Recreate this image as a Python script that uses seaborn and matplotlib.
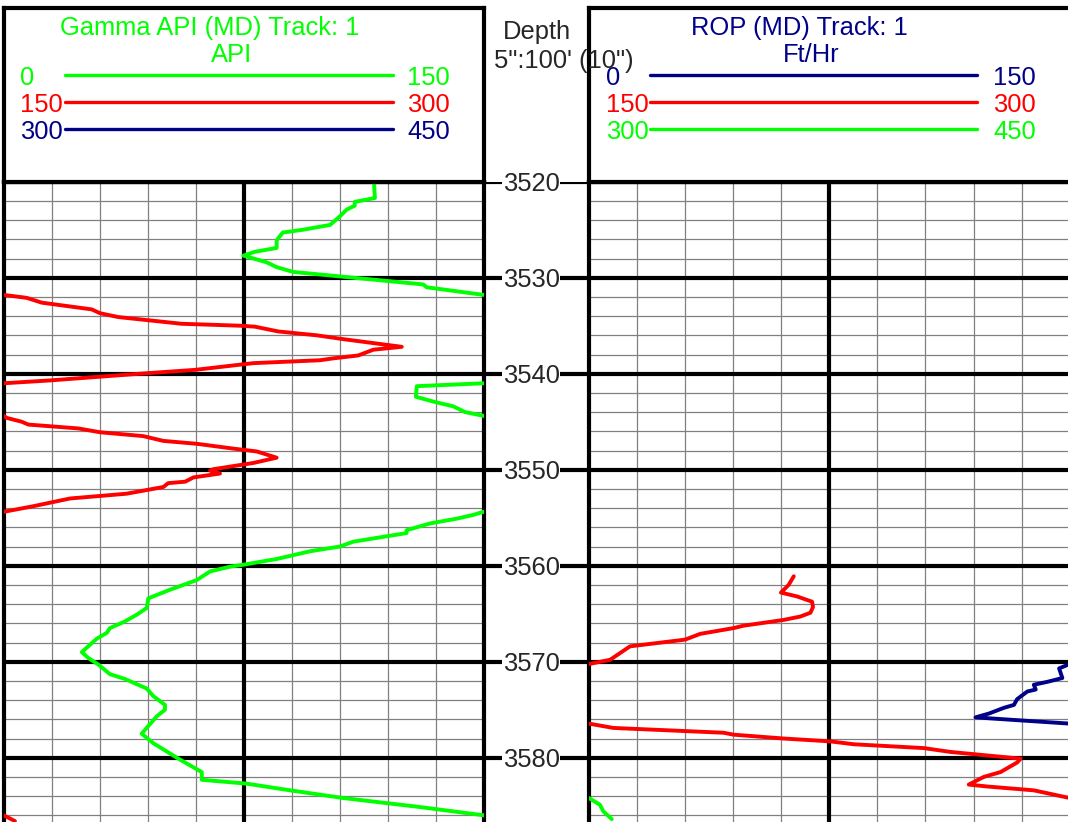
import numpy as np
import matplotlib
matplotlib.use("Agg")
import matplotlib.pyplot as plt
from matplotlib.patches import Polygon
import seaborn as sns

# gamma ray, API (the track wraps every 150 API)
gr_depth = [3520.0, 3521.7, 3522.1, 3522.5, 3522.9, 3523.6, 3524.5, 3525.0, 3525.3, 3526.1,
            3526.9, 3527.3, 3527.7, 3528.4, 3528.9, 3529.4, 3529.8, 3530.7, 3531.0, 3531.8,
            3532.1, 3532.6, 3533.3, 3533.7, 3534.1, 3534.8, 3535.0, 3535.1, 3535.6, 3536.0,
            3536.4, 3537.2, 3537.5, 3538.1, 3538.4, 3538.6, 3538.9, 3539.6, 3540.0, 3540.7,
            3541.0, 3541.3, 3542.4, 3542.9, 3543.4, 3544.0, 3544.4, 3544.6, 3545.0, 3545.3,
            3545.7, 3546.1, 3546.5, 3547.0, 3547.3, 3547.8, 3548.1, 3548.75, 3549.3, 3549.95,
            3550.1, 3550.4, 3550.8, 3551.25, 3551.4, 3551.8, 3552.5, 3553.0, 3553.8, 3554.4,
            3554.7, 3555.1, 3555.6, 3556.3, 3556.6, 3557.5, 3558.0, 3558.5, 3559.3, 3559.9,
            3560.1, 3560.6, 3561.5, 3562.5, 3563.4, 3564.4, 3565.1, 3565.8, 3566.5, 3567.0,
            3567.6, 3569.0, 3569.6, 3570.3, 3571.3, 3571.8, 3572.8, 3573.6, 3574.5, 3575.0,
            3575.7, 3577.5, 3578.5, 3580.2, 3581.5, 3582.3, 3582.7, 3583.4, 3584.2, 3585.1,
            3586.0, 3586.6]
gr_api = [115.7, 116.0, 109.7, 109.7, 107.2, 105.1, 102.0, 93.6, 87.2, 85.3,
          85.3, 78.5, 74.9, 82.2, 85.3, 90.5, 103.0, 131.1, 132.2, 150.2,
          157.2, 161.9, 177.5, 180.1, 185.8, 205.6, 223.8, 228.5, 235.8, 247.8,
          256.1, 274.4, 265.5, 260.8, 253.0, 248.8, 228.0, 209.8, 192.6, 164.5,
          149.8, 129.1, 128.8, 134.2, 140.5, 144.2, 150.1, 150.9, 155.6, 157.7,
          173.3, 180.1, 193.6, 199.9, 210.3, 221.7, 229.1, 235.3, 228.0, 215.5,
          214.5, 217.6, 209.3, 206.7, 201.4, 199.9, 188.4, 170.7, 159.3, 149.8,
          146.8, 141.6, 133.2, 125.9, 125.9, 109.2, 105.1, 95.7, 85.3, 74.9,
          70.7, 64.5, 60.3, 52.0, 45.2, 44.7, 41.6, 37.9, 33.2, 32.2,
          29.1, 24.4, 26.4, 29.6, 33.2, 37.9, 44.7, 46.8, 50.4, 50.4,
          47.8, 43.1, 46.8, 55.1, 61.9, 61.9, 75.9, 89.5, 106.1, 129.1,
          150.0, 153.5]

# rate of penetration, ft/hr
rop_depth = [3561.1, 3562.0, 3562.8, 3563.2, 3563.75, 3564.3, 3564.9, 3565.3, 3565.65, 3566.25,
             3566.5, 3567.1, 3567.7, 3568.4, 3569.8, 3570.25, 3570.7, 3571.7, 3572.1, 3572.4,
             3572.9, 3573.1, 3573.9, 3574.5, 3574.8, 3575.4, 3575.8, 3576.0, 3576.45, 3576.9,
             3577.4, 3577.6, 3578.0, 3578.3, 3578.6, 3579.0, 3579.4, 3580.1, 3580.5, 3581.5,
             3582.0, 3582.8, 3583.0, 3583.4, 3584.2, 3584.9, 3585.6, 3586.4]
rop_fph = [213.9, 212.3, 209.9, 214.9, 219.6, 219.9, 219.1, 215.9, 210.7, 198.2,
           195.1, 184.7, 180.0, 162.8, 156.6, 149.9, 146.7, 147.7, 143.0, 138.8,
           139.4, 136.8, 133.6, 132.6, 129.5, 124.8, 120.6, 129.5, 150.0, 157.6,
           192.0, 195.1, 210.7, 225.3, 232.6, 254.5, 262.8, 284.7, 283.6, 278.4,
           273.2, 268.5, 274.3, 288.8, 300.0, 303.4, 304.5, 307.1]

scale_lo = [0, 150, 300]
scale_hi = [150, 300, 450]
gr_colors = ["#00ff00", "#ff0000", "#000088"]
rop_colors = ["#000088", "#ff0000", "#00ff00"]
depth_marks = [3520, 3530, 3540, 3550, 3560, 3570, 3580]

sns.set_theme(style="white")
plt.rcParams["font.family"] = ["Liberation Sans", "DejaVu Sans"]

W, H = 1068, 822
fig = plt.figure(figsize=(W / 100, H / 100), dpi=100)
fig.patch.set_facecolor("white")


def px_axes(x0, y0, x1, y1):
    return fig.add_axes([x0 / W, 1 - y1 / H, (x1 - x0) / W, (y1 - y0) / H])


top_y, bot_y = 181.7, 822
d_top = 3520
d_bot = d_top + (bot_y - top_y) / 9.6
fs = 18.4
thick = 3.0


def track(ax, depth, values, colors):
    ax.set_facecolor("white")
    for v in np.arange(15, 150, 15):
        ax.axvline(v, color="#808080", lw=0.9, zorder=1)
    for d in np.arange(3520, 3588, 2):
        if d % 10:
            ax.axhline(d, color="#808080", lw=0.9, zorder=1)
    ax.axvline(75, color="black", lw=thick, zorder=2)
    for d in depth_marks:
        ax.axhline(d, color="black", lw=thick, zorder=2)
    vals = np.array(values)
    # one pass per wrap band, the axes limits clip what falls outside
    for lo, c in zip(scale_lo, colors):
        sns.lineplot(x=vals - lo, y=depth, sort=False, estimator=None, color=c,
                     lw=2.8, ax=ax, legend=False, zorder=4,
                     solid_joinstyle="round", solid_capstyle="round")
    ax.set_xlim(0, 150)
    ax.set_ylim(d_bot, d_top)
    ax.set_xticks([])
    ax.set_yticks([])
    ax.set_xlabel("")
    ax.set_ylabel("")
    for s in ["left", "right", "top"]:
        ax.spines[s].set_visible(True)
        ax.spines[s].set_color("black")
        ax.spines[s].set_linewidth(thick)
    ax.spines["bottom"].set_visible(False)


ax_gr = px_axes(3.7, top_y, 483.7, bot_y)
track(ax_gr, gr_depth, gr_api, gr_colors)
ax_rop = px_axes(589, top_y, 1069.7, bot_y)
track(ax_rop, rop_depth, rop_fph, rop_colors)

# depth column
ax_d = px_axes(483.7, top_y, 589, bot_y)
ax_d.set_xlim(0, 1)
ax_d.set_ylim(d_bot, d_top)
for d in depth_marks:
    ax_d.axhline(d, color="black", lw=thick, zorder=1)
    ax_d.text(0.45, d, str(d), ha="center", va="center_baseline", fontsize=fs, zorder=3,
              bbox=dict(facecolor="white", edgecolor="none", pad=0.2))
ax_d.set_xticks([])
ax_d.set_yticks([])
for s in ax_d.spines.values():
    s.set_visible(False)
ax_d.patch.set_alpha(0)


def header(x0, x1, title, unit, title_x, unit_x, colors, lab_l, line_x0, line_x1, lab_r):
    ax = px_axes(x0, 8, x1, top_y)
    ax.set_xlim(x0, x1)
    ax.set_ylim(top_y, 8)
    ax.set_xticks([])
    ax.set_yticks([])
    for s in ax.spines.values():
        s.set_visible(True)
        s.set_color("black")
        s.set_linewidth(thick)
    ax.text(title_x, 35, title, color=colors[0], ha="center", va="baseline", fontsize=fs)
    ax.text(unit_x, 62, unit, color=colors[0], ha="center", va="baseline", fontsize=fs)
    for i, (lo, hi, c) in enumerate(zip(scale_lo, scale_hi, colors)):
        y = 75.3 + i * 26.9
        ax.plot([line_x0, line_x1], [y, y], color=c, lw=2.4, solid_capstyle="round")
        ax.text(lab_l, y + 9.5, str(lo), color=c, ha="left", va="baseline", fontsize=fs)
        ax.text(lab_r, y + 9.5, str(hi), color=c, ha="left", va="baseline", fontsize=fs)
    return ax


header(3.7, 483.7, "Gamma API (MD) Track: 1", "API", 210, 232, gr_colors, 20, 65, 393, 407)
header(589, 1069.7, "ROP (MD) Track: 1", "Ft/Hr", 799, 811, rop_colors, 606, 650, 977, 993)

fig.text(537 / W, 1 - 39.5 / H, "Depth", ha="center", va="baseline", fontsize=fs)
scale_txt = fig.text(494 / W, 1 - 68 / H, "5\":100' (10\")", ha="left", va="baseline", fontsize=fs)
# the right header hides the lower part of the scale text
clip = Polygon([(0, 1), (1, 1), (1, 1 - 65 / H), (590 / W, 1 - 65 / H), (590 / W, 0), (0, 0)],
               closed=True, transform=fig.transFigure, facecolor="none", edgecolor="none")
scale_txt.set_clip_path(clip)
scale_txt.set_clip_on(True)

fig.savefig("out.png", dpi=100, facecolor="white")
